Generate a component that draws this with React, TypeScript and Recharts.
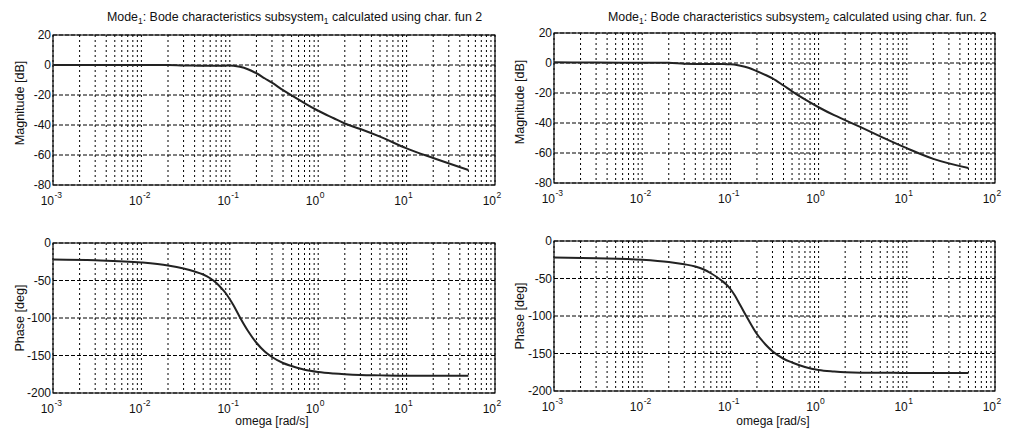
import React from 'react';
import { LineChart, Line, XAxis, YAxis, CartesianGrid, ReferenceArea } from 'recharts';

// ---- data ----
const omega = [0.001, 0.003, 0.01, 0.02, 0.03, 0.04, 0.05, 0.06, 0.07, 0.08, 0.09, 0.1, 0.11, 0.13, 0.16, 0.2, 0.25, 0.3, 0.4, 0.5, 0.7, 1, 1.5, 2, 3, 5, 10, 20, 50];
const mag1 = [0, 0, 0, 0, -0.3, -0.4, -0.5, -0.5, -0.5, -0.5, -0.4, -0.3, -0.5, -1.2, -2.8, -5.5, -9, -11.8, -16.8, -20.3, -25.4, -30.5, -35.5, -39, -42.7, -47.8, -55.6, -62, -70];
const phase1 = [-22, -23, -26, -30, -34, -38, -42, -47, -53, -60, -67, -75, -83, -99, -117, -133, -145, -152, -160, -164, -169, -172, -174, -175, -176, -176.5, -177, -177, -177];
const mag2 = [0.5, 0.3, 0.2, 0.2, -0.5, -0.6, -0.6, -0.6, -0.7, -0.7, -0.8, -0.8, -1.0, -1.8, -3.2, -5.5, -8, -10.2, -15, -18.9, -24.3, -29.5, -34.8, -38.1, -42.8, -48.9, -56.8, -63.9, -70];
const phase2 = [-22, -23, -25, -28, -31, -34, -38, -43, -48, -53, -58, -64, -71, -86, -105, -124, -138, -147, -157, -162, -168, -172, -174, -175, -175.5, -175.5, -176, -176, -176];

const decades = [0.001, 0.01, 0.1, 1, 10, 100];
const decadeExponents = ['-3', '-2', '-1', '0', '1', '2'];
const minorMultipliers = [2, 3, 4, 5, 6, 7, 8, 9];
const magTicks = [-80, -60, -40, -20, 0, 20];
const phaseTicks = [-200, -150, -100, -50, 0];

const titles = ['subsystem', 'subsystem'];
const titleSubs = ['1', '2'];
const titleTails = [' calculated using char. fun 2', ' calculated using char. fun. 2'];

// ---- derived tables ----
const rows = omega.map((w, i) => ({ w, mag1: mag1[i], phase1: phase1[i], mag2: mag2[i], phase2: phase2[i] }));
const gridTicks = [
  ...decades,
  ...decades.slice(0, 5).flatMap((d) => minorMultipliers.map((m) => d * m)),
].sort((a, b) => a - b);

const FONT = 'Liberation Sans, Arial, sans-serif';
const INK = '#111';

const XTick = (props: any) => {
  const { x, y, payload } = props;
  const idx = decades.indexOf(payload.value);
  if (idx < 0) return <g />;
  return (
    <g>
      <text x={x + 1} y={y + 20} textAnchor="end" fontSize={12} fontFamily={FONT} fill={INK}>10</text>
      <text x={x + 1.5} y={y + 13} textAnchor="start" fontSize={8.5} fontFamily={FONT} fill={INK}>{decadeExponents[idx]}</text>
    </g>
  );
};

const YTick = (props: any) => {
  const { x, y, payload } = props;
  return (
    <text x={x} y={y + 4} textAnchor="end" fontSize={12} fontFamily={FONT} fill={INK}>{payload.value}</text>
  );
};

type PanelProps = {
  left: number; top: number; width: number; height: number;
  margin: { top: number; right: number; bottom: number; left: number };
  dataKey: string; yTicks: number[]; yDomain: [number, number];
};

const Panel = ({ left, top, width, height, margin, dataKey, yTicks, yDomain }: PanelProps) => (
  <div style={{ position: 'absolute', left, top, width, height }}>
    <LineChart width={width} height={height} data={rows} margin={margin}>
      <CartesianGrid vertical={false} stroke="#000" strokeDasharray="4 2" strokeWidth={1} />
      <CartesianGrid horizontal={false} stroke="#000" strokeDasharray="2 3" strokeWidth={1} />
      <XAxis
        dataKey="w" type="number" scale="log" domain={[0.001, 100]} allowDataOverflow
        ticks={gridTicks} interval={0} tick={<XTick />} tickLine={false} axisLine={false}
        tickSize={0} tickMargin={0} height={25}
      />
      <YAxis
        type="number" domain={yDomain} ticks={yTicks} interval={0} tick={<YTick />}
        tickLine={false} axisLine={false} tickSize={0} tickMargin={2} width={40} allowDataOverflow
      />
      <ReferenceArea x1={0.001} x2={100} y1={yDomain[0]} y2={yDomain[1]} fill="none" stroke="#000" strokeWidth={1.2} ifOverflow="visible" />
      <Line type="monotone" dataKey={dataKey} stroke="#222" strokeWidth={2} dot={false} isAnimationActive={false} />
    </LineChart>
  </div>
);

const Title = ({ x, y, i }: { x: number; y: number; i: number }) => (
  <text x={x} y={y} fontSize={12.4} fontFamily={FONT} fill={INK}>
    <tspan>Mode</tspan>
    <tspan fontSize={8.5} dy={3}>1</tspan>
    <tspan dy={-3}>{': Bode characteristics ' + titles[i]}</tspan>
    <tspan fontSize={8.5} dy={3}>{titleSubs[i]}</tspan>
    <tspan dy={-3}>{titleTails[i]}</tspan>
  </text>
);

export default function App() {
  return (
    <div style={{ position: 'absolute', left: 0, top: 0, width: 1009, height: 431, background: '#fff', overflow: 'hidden' }}>
      <Panel left={0} top={0} width={505} height={215}
        margin={{ top: 35, right: 10, bottom: 5, left: 13 }}
        dataKey="mag1" yTicks={magTicks} yDomain={[-80, 20]} />
      <Panel left={0} top={215} width={505} height={216}
        margin={{ top: 28, right: 10, bottom: 13, left: 13 }}
        dataKey="phase1" yTicks={phaseTicks} yDomain={[-200, 0]} />
      <Panel left={505} top={0} width={504} height={215}
        margin={{ top: 33, right: 14, bottom: 7, left: 9 }}
        dataKey="mag2" yTicks={magTicks} yDomain={[-80, 20]} />
      <Panel left={505} top={215} width={504} height={216}
        margin={{ top: 26, right: 14, bottom: 15, left: 9 }}
        dataKey="phase2" yTicks={phaseTicks} yDomain={[-200, 0]} />
      <svg width={1009} height={431} style={{ position: 'absolute', left: 0, top: 0, pointerEvents: 'none' }}>
        <Title x={107} y={21} i={0} />
        <Title x={608} y={21} i={1} />
        <text x={21} y={103} transform="rotate(-90 21 103)" textAnchor="middle" dominantBaseline="middle" fontSize={12.6} fontFamily={FONT} fill={INK}>Magnitude [dB]</text>
        <text x={21} y={318} transform="rotate(-90 21 318)" textAnchor="middle" dominantBaseline="middle" fontSize={12.6} fontFamily={FONT} fill={INK}>Phase [deg]</text>
        <text x={521} y={102} transform="rotate(-90 521 102)" textAnchor="middle" dominantBaseline="middle" fontSize={12.6} fontFamily={FONT} fill={INK}>Magnitude [dB]</text>
        <text x={521} y={316} transform="rotate(-90 521 316)" textAnchor="middle" dominantBaseline="middle" fontSize={12.6} fontFamily={FONT} fill={INK}>Phase [deg]</text>
        <text x={272} y={425} textAnchor="middle" fontSize={12} fontFamily={FONT} fill={INK}>omega [rad/s]</text>
        <text x={773} y={425} textAnchor="middle" fontSize={12} fontFamily={FONT} fill={INK}>omega [rad/s]</text>
      </svg>
    </div>
  );
}
